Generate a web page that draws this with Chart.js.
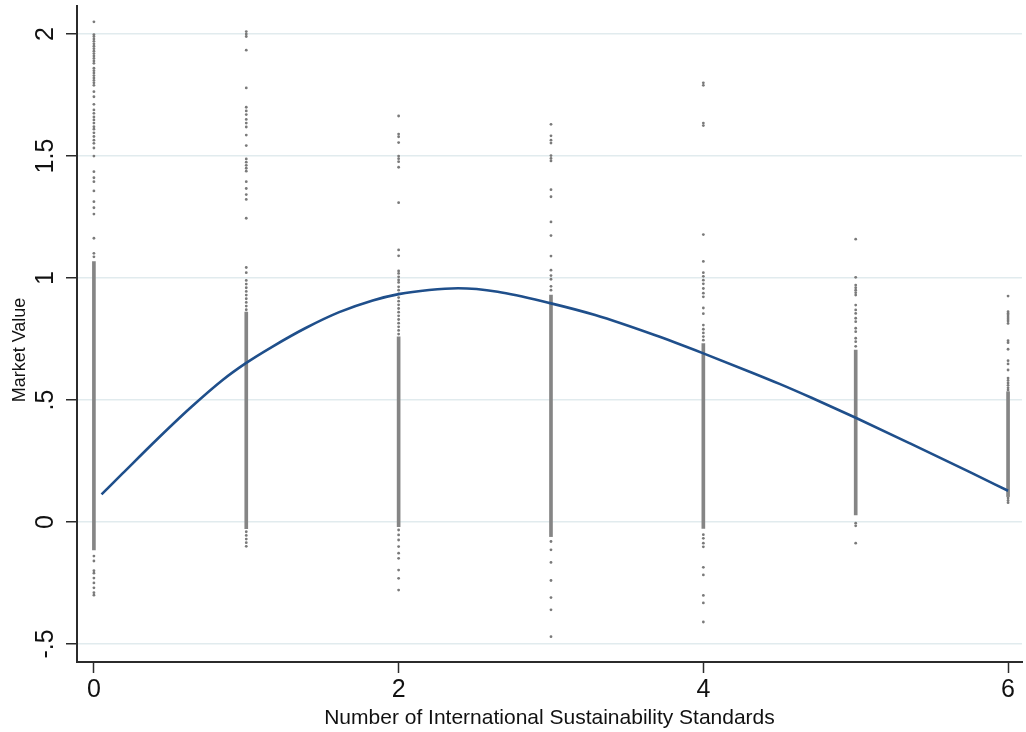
<!DOCTYPE html>
<html>
<head>
<meta charset="utf-8">
<script src="https://cdn.jsdelivr.net/npm/chart.js@4"></script>
<style>
  html, body { margin: 0; padding: 0; background: #fff; }
  #wrap { width: 1026px; height: 732px; }
</style>
</head>
<body>
<div id="wrap"><canvas id="chart" width="1026" height="732"></canvas></div>
<script>
// axis ticks
const xTickVals = [0, 2, 4, 6];
const yTickVals = [-0.5, 0, 0.5, 1, 1.5, 2];
const yTickLabels = ['-.5', '0', '.5', '1', '1.5', '2'];

// runs where the markers pile up into a solid column
const bandX    = [0, 1, 2, 3, 4, 5, 6];
const bandLow  = [-0.115, -0.027, -0.019, -0.06, -0.026, 0.029, 0.104];
const bandHigh = [1.067, 0.86, 0.759, 0.93, 0.731, 0.705, 0.534];

// scattered markers, one list per number of standards
const dots0 = [2.05, 1.998, 1.99, 1.98, 1.97, 1.96, 1.95, 1.94, 1.93, 1.92, 1.91, 1.9, 1.89, 1.88, 1.86,
  1.85, 1.84, 1.83, 1.82, 1.81, 1.8, 1.79, 1.764, 1.743, 1.712, 1.689, 1.675, 1.66, 1.648, 1.635, 1.62,
  1.61, 1.595, 1.58, 1.565, 1.552, 1.533, 1.5, 1.436, 1.411, 1.395, 1.357, 1.313, 1.288, 1.262, 1.163,
  1.101, 1.087, -0.14, -0.16, -0.2, -0.21, -0.23, -0.25, -0.27, -0.29, -0.3];
const dots1 = [2.01, 2.0, 1.99, 1.934, 1.779, 1.7, 1.685, 1.67, 1.65, 1.635, 1.619, 1.586, 1.543, 1.488,
  1.475, 1.462, 1.45, 1.438, 1.395, 1.367, 1.342, 1.322, 1.245, 1.043, 1.022, 0.99, 0.975, 0.96,
  0.945, 0.93, 0.915, 0.9, 0.885, 0.87, -0.04, -0.055, -0.07, -0.085, -0.1];
const dots2 = [1.664, 1.59, 1.579, 1.555, 1.5, 1.489, 1.477, 1.454, 1.309, 1.115, 1.091, 1.029, 1.019,
  1.005, 0.992, 0.982, 0.964, 0.95, 0.935, 0.92, 0.905, 0.89, 0.875, 0.86, 0.845, 0.83, 0.815, 0.8,
  0.785, 0.77, -0.033, -0.053, -0.074, -0.101, -0.128, -0.149, -0.197, -0.231, -0.279];
const dots3 = [1.63, 1.583, 1.565, 1.553, 1.502, 1.49, 1.48, 1.362, 1.333, 1.23, 1.174, 1.09, 1.032,
  1.01, 0.995, 0.966, 0.95, -0.08, -0.114, -0.166, -0.24, -0.31, -0.36, -0.47];
const dots4 = [1.8, 1.79, 1.635, 1.625, 1.178, 1.068, 1.022, 1.007, 0.991, 0.976, 0.957, 0.938, 0.923,
  0.877, 0.854, 0.807, 0.79, 0.775, 0.76, 0.745, -0.052, -0.067, -0.087, -0.102, -0.186, -0.217,
  -0.301, -0.332, -0.41];
const dots5 = [1.159, 1.003, 0.971, 0.96, 0.95, 0.94, 0.93, 0.889, 0.869, 0.855, 0.835, 0.821, 0.794,
  0.78, 0.753, 0.739, 0.72, -0.005, -0.016, -0.087];
const dots6 = [0.926, 0.862, 0.855, 0.848, 0.84, 0.832, 0.824, 0.814, 0.743, 0.735, 0.708, 0.661, 0.648,
  0.623, 0.59, 0.58, 0.57, 0.56, 0.55, 0.541, 0.098, 0.088, 0.079];

// fitted curve
const fitX = [0.05, 0.19, 0.41, 0.63, 0.845, 1.0, 1.17, 1.39, 1.61, 1.83, 2.0, 2.2, 2.39, 2.65, 3.0,
  3.29, 3.68, 4.0, 4.32, 4.5, 4.71, 5.0, 5.36, 5.75, 6.0];
const fitY = [0.113, 0.2, 0.336, 0.466, 0.582, 0.652, 0.718, 0.795, 0.86, 0.908, 0.934, 0.951, 0.958,
  0.944, 0.896, 0.848, 0.766, 0.691, 0.612, 0.566, 0.509, 0.427, 0.321, 0.204, 0.128];

const dotCols = [dots0, dots1, dots2, dots3, dots4, dots5, dots6];
const FONT = '"Liberation Sans", Arial, Helvetica, sans-serif';
const AXIS = '#2b2b2b';
const GRID = '#e1ebee';

const bandData = bandX.map((x, i) => ({ x: x, y: [bandLow[i], bandHigh[i]] }));
const dotData = [];
dotCols.forEach((col, i) => col.forEach(v => dotData.push({ x: i, y: v })));
const fitData = fitX.map((x, i) => ({ x: x, y: fitY[i] }));

// y labels and title in Stata style, turned on their side
const yLabels = {
  id: 'yLabels',
  afterDraw(chart) {
    const { ctx, scales: { y } } = chart;
    ctx.save();
    ctx.fillStyle = '#111';
    ctx.textAlign = 'center';
    ctx.textBaseline = 'alphabetic';
    ctx.font = '25px ' + FONT;
    yTickVals.forEach((v, i) => {
      ctx.save();
      ctx.translate(53, y.getPixelForValue(v));
      ctx.rotate(-Math.PI / 2);
      ctx.fillText(yTickLabels[i], 0, 0);
      ctx.restore();
    });
    ctx.font = '18px ' + FONT;
    ctx.translate(25, 350);
    ctx.rotate(-Math.PI / 2);
    ctx.fillText('Market Value', 0, 0);
    ctx.restore();
  }
};

new Chart(document.getElementById('chart'), {
  type: 'scatter',
  data: {
    datasets: [
      {
        type: 'line',
        data: fitData,
        borderColor: '#1f4f8b',
        borderWidth: 2.6,
        pointRadius: 0,
        cubicInterpolationMode: 'monotone',
        fill: false,
        order: 0
      },
      {
        data: dotData,
        pointRadius: 1.4,
        pointBackgroundColor: '#7a7a7a',
        pointBorderWidth: 0,
        order: 1
      },
      {
        type: 'bar',
        data: bandData,
        backgroundColor: '#858585',
        barThickness: 3,
        borderWidth: 0,
        order: 2
      }
    ]
  },
  options: {
    responsive: false,
    animation: false,
    devicePixelRatio: 1,
    layout: { padding: { top: 6, left: 0, right: 0, bottom: 0 } },
    plugins: { legend: { display: false }, tooltip: { enabled: false } },
    scales: {
      x: {
        type: 'linear',
        offset: false,
        min: -0.111,
        max: 6.0915,
        afterBuildTicks: s => { s.ticks = xTickVals.map(v => ({ value: v })); },
        afterFit: s => { s.height = 70; },
        grid: {
          offset: false,
          drawOnChartArea: false,
          tickColor: AXIS,
          tickLength: 11,
          tickWidth: 1.5
        },
        border: { color: AXIS, width: 2 },
        ticks: {
          color: '#111',
          font: { family: FONT, size: 25 },
          padding: 2,
          maxRotation: 0,
          callback: v => String(v)
        },
        title: {
          display: true,
          text: 'Number of International Sustainability Standards',
          color: '#111',
          font: { family: FONT, size: 21 },
          padding: { top: 0, bottom: 1 }
        }
      },
      y: {
        type: 'linear',
        min: -0.574,
        max: 2.115,
        afterBuildTicks: s => { s.ticks = yTickVals.map(v => ({ value: v })); },
        afterFit: s => { s.width = 77; },
        grid: {
          color: GRID,
          lineWidth: 1.5,
          tickColor: AXIS,
          tickLength: 11,
          tickWidth: 1.5
        },
        border: { color: AXIS, width: 2 },
        ticks: { display: false }
      }
    }
  },
  plugins: [yLabels]
});
</script>
</body>
</html>
